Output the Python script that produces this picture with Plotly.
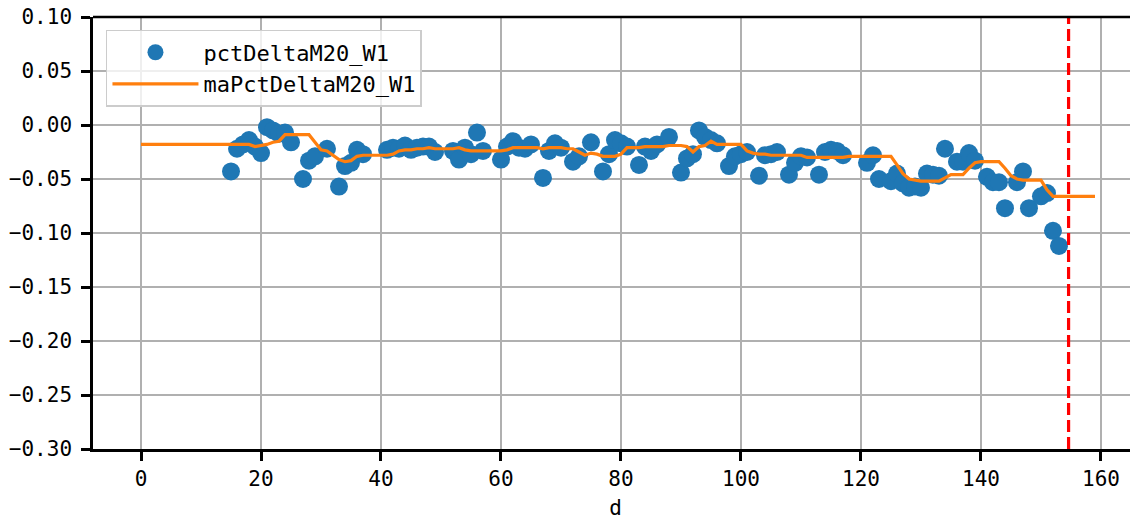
import plotly.graph_objects as go

# scatter points: day index and value
pct_days = [15, 16, 17, 18, 19, 20, 21, 22, 23, 24, 25, 27, 28, 29, 31, 33, 34, 35, 36, 37,
            41, 42, 43, 44, 45, 46, 47, 48, 49, 52, 53, 54, 55, 56, 57, 60, 61, 62, 63, 64,
            65, 67, 68, 69, 70, 72, 73, 75, 77, 78, 79, 80, 81, 83, 84, 85, 86, 88, 90, 91,
            92, 93, 94, 95, 96, 98, 99, 100, 101, 103, 104, 105, 106, 108, 109, 110, 111, 113, 114, 115,
            116, 117, 121, 122, 123, 125, 126, 127, 128, 129, 130, 131, 132, 133, 134, 136, 137, 138, 139, 141,
            142, 143, 144, 146, 147, 148, 150, 151, 152, 153]
pct_values = [-0.043, -0.022, -0.018, -0.014, -0.020, -0.026, -0.002, -0.005, -0.008, -0.007,
              -0.016, -0.050, -0.033, -0.029, -0.022, -0.057, -0.038, -0.035, -0.023, -0.027,
              -0.023, -0.021, -0.022, -0.019, -0.023, -0.021, -0.020, -0.020, -0.025, -0.024,
              -0.032, -0.021, -0.027, -0.007, -0.024, -0.032, -0.020, -0.015, -0.021, -0.022,
              -0.018, -0.049, -0.024, -0.017, -0.021, -0.034, -0.029, -0.016, -0.043, -0.027,
              -0.014, -0.017, -0.020, -0.037, -0.020, -0.024, -0.018, -0.011, -0.044, -0.031,
              -0.027, -0.005, -0.011, -0.014, -0.017, -0.038, -0.029, -0.027, -0.025, -0.047,
              -0.028, -0.027, -0.025, -0.046, -0.035, -0.029, -0.030, -0.046, -0.025, -0.023,
              -0.024, -0.028, -0.035, -0.028, -0.050, -0.052, -0.045, -0.054, -0.058, -0.057,
              -0.058, -0.045, -0.046, -0.047, -0.022, -0.034, -0.034, -0.026, -0.033, -0.048,
              -0.053, -0.053, -0.077, -0.053, -0.043, -0.077, -0.066, -0.063, -0.098, -0.112]

# moving average, one value per day 0..159
ma_days = list(range(0, 160))
ma_values = [-0.018] * 19 + [
    -0.020, -0.019, -0.018, -0.016, -0.015, -0.009, -0.009, -0.009, -0.009, -0.009,  # 19-28
    -0.016, -0.023, -0.024, -0.028, -0.032, -0.034, -0.033, -0.029, -0.028, -0.028,  # 29-38
    -0.028, -0.028, -0.028, -0.027, -0.024, -0.023, -0.023, -0.022, -0.022, -0.021,  # 39-48
    -0.022, -0.022, -0.022, -0.022, -0.021, -0.023, -0.024, -0.024, -0.024, -0.024,  # 49-58
    -0.024, -0.024, -0.023, -0.021, -0.021, -0.021, -0.021, -0.021, -0.022, -0.021,  # 59-68
    -0.021, -0.021, -0.022, -0.022, -0.025, -0.028, -0.026, -0.027, -0.029, -0.029,  # 69-78
    -0.029, -0.027, -0.021, -0.021, -0.021, -0.020, -0.020, -0.020, -0.020, -0.019,  # 79-88
    -0.019, -0.019, -0.020, -0.025, -0.020, -0.019, -0.015, -0.018, -0.018, -0.018,  # 89-98
    -0.018, -0.018, -0.024, -0.026, -0.027, -0.027, -0.028, -0.028, -0.028, -0.028,  # 99-108
    -0.028, -0.028, -0.030, -0.030, -0.030, -0.030, -0.030, -0.030, -0.030, -0.029,  # 109-118
    -0.029, -0.029, -0.029, -0.029, -0.029, -0.029, -0.029, -0.037, -0.045, -0.050,  # 119-128
    -0.051, -0.052, -0.052, -0.052, -0.052, -0.049, -0.046, -0.046, -0.046, -0.040,  # 129-138
    -0.035, -0.034, -0.034, -0.034, -0.034, -0.040, -0.047, -0.050, -0.051, -0.051,  # 139-148
    -0.051, -0.051, -0.060, -0.066, -0.066, -0.066, -0.066, -0.066, -0.066, -0.066,  # 149-158
    -0.066]                                                                            # 159

vline_day = 154.6

y_tickvals = [0.10, 0.05, 0.00, -0.05, -0.10, -0.15, -0.20, -0.25, -0.30]
y_ticktext = ["0.10", "0.05", "0.00", "\u22120.05", "\u22120.10", "\u22120.15", "\u22120.20", "\u22120.25", "\u22120.30"]
x_tickvals = [0, 20, 40, 60, 80, 100, 120, 140, 160]

FONT = "DejaVu Sans Mono"

fig = go.Figure()
fig.add_trace(go.Scatter(
    x=pct_days, y=pct_values, mode="markers", name="pctDeltaM20_W1",
    marker=dict(color="#1f77b4", size=18, line=dict(width=0)),
))
fig.add_trace(go.Scatter(
    x=ma_days, y=ma_values, mode="lines", name="maPctDeltaM20_W1",
    line=dict(color="#ff7f0e", width=3.2),
))

fig.add_shape(type="line", xref="x", yref="paper", x0=vline_day, x1=vline_day, y0=0, y1=1,
              line=dict(color="red", width=3.2, dash="12px,5px"))
# top spine
fig.add_shape(type="line", xref="paper", yref="paper", x0=0, x1=1, y0=1, y1=1,
              line=dict(color="black", width=2.5), layer="above")

# the page body adds an 8px offset, so the figure is sized to fit the window
fig.update_layout(
    width=1130, height=512,
    margin=dict(l=85, r=0, t=9, b=71, autoexpand=False),
    plot_bgcolor="white", paper_bgcolor="white",
    font=dict(family=FONT, size=21, color="black"),
    showlegend=True,
    legend=dict(
        x=0.0124, y=0.97, xanchor="left", yanchor="top",
        bgcolor="rgba(255,255,255,0.8)", bordercolor="#cccccc", borderwidth=1.5,
        font=dict(family=FONT, size=22, color="black"),
        itemwidth=86, tracegroupgap=0,
    ),
    xaxis=dict(
        range=[-8.0, 166.17], tickvals=x_tickvals,
        showgrid=True, gridcolor="#b0b0b0", gridwidth=2,
        showline=True, linecolor="black", linewidth=2.5,
        ticks="outside", ticklen=9, tickwidth=2.5, tickcolor="black",
        zeroline=False, automargin=False, ticklabeloverflow="allow",
        title=dict(text="d", font=dict(family=FONT, size=21), standoff=15),
    ),
    yaxis=dict(
        range=[-0.30, 0.10], tickvals=y_tickvals, ticktext=y_ticktext,
        showgrid=True, gridcolor="#b0b0b0", gridwidth=2,
        showline=True, linecolor="black", linewidth=2.5,
        ticks="outside", ticklen=9, tickwidth=2.5, tickcolor="black",
        zeroline=False, automargin=False, ticklabelstandoff=5,
        ticklabeloverflow="allow",
    ),
)

fig.write_html("out.html")
